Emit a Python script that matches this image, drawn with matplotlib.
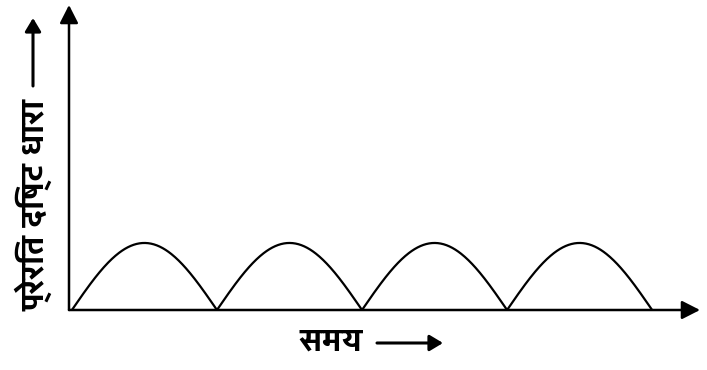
import numpy as np
import matplotlib
matplotlib.use("Agg")
import matplotlib.pyplot as plt
from matplotlib import font_manager
from matplotlib.patches import FancyArrowPatch
from fontTools.ttLib import TTFont

# Labels
y_label = "प्रेरित दिष्ट धारा"
x_label = "समय"

# Rectified current: number of half-cycles and peak value
n_humps = 4
peak = 1.0


# Look for an installed font that covers Devanagari, bold faces first
def devanagari_family():
    found = []
    for entry in font_manager.fontManager.ttflist:
        try:
            cmap = TTFont(entry.fname, fontNumber=0, lazy=True).getBestCmap()
        except Exception:
            continue
        if cmap and 0x0938 in cmap:
            w = entry.weight if isinstance(entry.weight, int) else 400
            found.append((w, entry.name))
    found.sort(reverse=True)
    return found[0][1] if found else None


fam = devanagari_family()
families = [fam, "DejaVu Sans"] if fam else ["DejaVu Sans"]
plt.rcParams["font.family"] = families

fig = plt.figure(figsize=(7.07, 3.70), dpi=100)
ax = fig.add_axes([69 / 707, 60 / 370, 631 / 707, 305 / 370])

t = np.linspace(0, n_humps, 800)
i = peak * np.abs(np.sin(np.pi * t))
ax.plot(t, i, color="black", lw=1.6, solid_capstyle="round")

ax.set_xlim(-0.02, 4.33)
ax.set_ylim(0, 4.55)
ax.axis("off")

# Axes drawn as arrows
head = dict(arrowstyle="-|>,head_length=0.55,head_width=0.28", color="black",
            lw=1.8, mutation_scale=20, shrinkA=0, shrinkB=0)
ax.annotate("", xy=(1, 0), xytext=(0, 0), xycoords="axes fraction",
            arrowprops=head, annotation_clip=False)
ax.annotate("", xy=(0, 1), xytext=(0, 0), xycoords="axes fraction",
            arrowprops=head, annotation_clip=False)

small = dict(arrowstyle="-|>,head_length=0.5,head_width=0.3", color="black",
             lw=2.2, mutation_scale=16, shrinkA=0, shrinkB=0)

# y label with its arrow
fig.text(34 / 707, 1 - 205 / 370, y_label, rotation=90, ha="center", va="center",
         fontsize=24, fontweight="bold")
fig.add_artist(FancyArrowPatch(
    (33 / 707, 1 - 86 / 370), (33 / 707, 1 - 18 / 370),
    transform=fig.transFigure, **small))

# x label with its arrow
fig.text(331 / 707, 1 - 343 / 370, x_label, ha="center", va="center",
         fontsize=24, fontweight="bold")
fig.add_artist(FancyArrowPatch(
    (377 / 707, 1 - 343 / 370), (443 / 707, 1 - 343 / 370),
    transform=fig.transFigure, **small))

fig.savefig("out.png", dpi=100)
